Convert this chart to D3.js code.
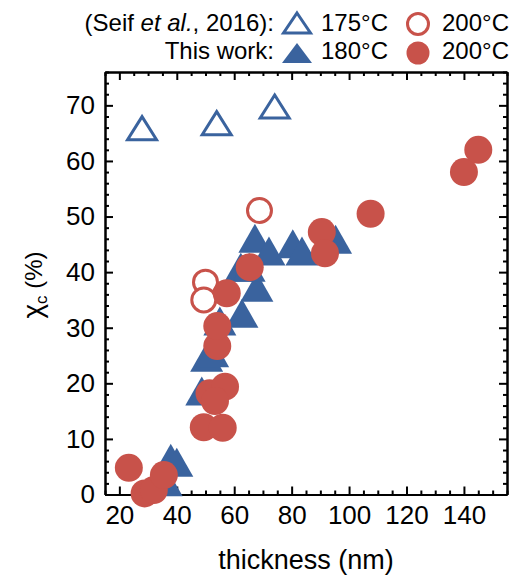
<!DOCTYPE html>
<html><head><meta charset="utf-8">
<script src="https://cdn.jsdelivr.net/npm/d3@7"></script>
<style>body{margin:0;background:#fff} text{font-family:"Liberation Sans", Arial, sans-serif;fill:#000}</style>
</head><body><svg id="c" width="513" height="579"></svg>
<script>
// ---- data ----
const xTicks = [20, 40, 60, 80, 100, 120, 140];
const yTicks = [0, 10, 20, 30, 40, 50, 60, 70];
// Seif et al., 2016 — 175°C (open triangles)
const seif175X = [27.9, 53.9, 74.1];
const seif175Y = [65.9, 66.8, 69.8];
// Seif et al., 2016 — 200°C (open circles)
const seif200X = [50.0, 49.4, 68.8];
const seif200Y = [38.2, 35.0, 51.1];
// This work — 180°C (filled triangles)
const work180X = [36.3, 37.9, 40.0, 48.7, 50.4, 52.5, 55.0, 62.7, 67.9, 62.3, 65.2, 67.2, 72.1, 80.4, 83.6, 95.3];
const work180Y = [2.3, 6.5, 5.8, 18.6, 24.7, 25.5, 31.2, 32.6, 37.3, 40.9, 40.9, 46.1, 43.8, 45.1, 43.8, 45.9];
// This work — 200°C (filled circles)
const work200X = [23.3, 28.8, 32.0, 35.5, 49.4, 56.0, 51.4, 56.8, 53.3, 54.1, 54.1, 57.4, 65.4, 90.5, 91.6, 107.5, 140.0, 145.0];
const work200Y = [4.8, 0.2, 0.8, 3.5, 12.1, 12.0, 18.2, 19.4, 16.8, 26.7, 30.3, 36.2, 40.9, 47.2, 43.4, 50.5, 58.0, 62.0];

const BLUE = "#3a639e", RED = "#c8524a";

// ---- layout ----
const L = 105, R = 507, T = 72, B = 494.5;
const svg = d3.select("#c");
const x = d3.scaleLinear().domain([15, 155]).range([L, R]);
const y = d3.scaleLinear().domain([0, 76]).range([B, T]);

const xMinor = d3.range(15, 156, 5).filter(v => v % 20 !== 0);
const yMinor = d3.range(0, 77, 2).filter(v => v % 10 !== 0);

function styleAxis(g){ g.selectAll("path,line").attr("stroke","#000").attr("stroke-width",2); }

// bottom
svg.append("g").attr("transform",`translate(0,${B})`)
  .call(d3.axisBottom(x).tickValues(xMinor).tickSize(-4).tickFormat("").tickSizeOuter(0)).call(styleAxis);
svg.append("g").attr("transform",`translate(0,${B})`)
  .call(d3.axisBottom(x).tickValues(xTicks).tickSize(-8).tickSizeOuter(0).tickPadding(11).tickFormat(d3.format("d")))
  .call(styleAxis).call(g=>g.selectAll("text").attr("font-size",26).attr("font-family","Liberation Sans, Arial, sans-serif"));
// top
svg.append("g").attr("transform",`translate(0,${T})`)
  .call(d3.axisTop(x).tickValues(xMinor).tickSize(-4).tickFormat("").tickSizeOuter(0)).call(styleAxis);
svg.append("g").attr("transform",`translate(0,${T})`)
  .call(d3.axisTop(x).tickValues(xTicks).tickSize(-8).tickFormat("").tickSizeOuter(0)).call(styleAxis);
// left
svg.append("g").attr("transform",`translate(${L},0)`)
  .call(d3.axisLeft(y).tickValues(yMinor).tickSize(-4).tickFormat("").tickSizeOuter(0)).call(styleAxis);
svg.append("g").attr("transform",`translate(${L},0)`)
  .call(d3.axisLeft(y).tickValues(yTicks).tickSize(-8).tickSizeOuter(0).tickPadding(10).tickFormat(d3.format("d")))
  .call(styleAxis).call(g=>g.selectAll("text").attr("font-size",26).attr("font-family","Liberation Sans, Arial, sans-serif"));
// right
svg.append("g").attr("transform",`translate(${R},0)`)
  .call(d3.axisRight(y).tickValues(yMinor).tickSize(-4).tickFormat("").tickSizeOuter(0)).call(styleAxis);
svg.append("g").attr("transform",`translate(${R},0)`)
  .call(d3.axisRight(y).tickValues(yTicks).tickSize(-8).tickFormat("").tickSizeOuter(0)).call(styleAxis);

// ---- markers ----
function triPath(cx, cy, w, h){
  return `M${cx},${cy-h/2}L${cx+w/2},${cy+h/2}L${cx-w/2},${cy+h/2}Z`;
}
const plot = svg.append("g");
plot.selectAll(".ot").data(d3.zip(seif175X, seif175Y)).join("path")
  .attr("d", d => triPath(x(d[0]), y(d[1]), 29, 23))
  .attr("fill","#fff").attr("stroke",BLUE).attr("stroke-width",3).attr("stroke-linejoin","miter");
plot.selectAll(".oc").data(d3.zip(seif200X, seif200Y)).join("circle")
  .attr("cx", d => x(d[0])).attr("cy", d => y(d[1])).attr("r", 12)
  .attr("fill","#fff").attr("stroke",RED).attr("stroke-width",3);
plot.selectAll(".ft").data(d3.zip(work180X, work180Y)).join("path")
  .attr("d", d => triPath(x(d[0]), y(d[1]), 33, 29)).attr("fill",BLUE);
plot.selectAll(".fc").data(d3.zip(work200X, work200Y)).join("circle")
  .attr("cx", d => x(d[0])).attr("cy", d => y(d[1])).attr("r", 14).attr("fill",RED);

// ---- axis titles ----
svg.append("text").attr("x", (L+R)/2).attr("y", 569).attr("text-anchor","middle")
  .attr("font-size",27).text("thickness (nm)");
const yt = svg.append("text").attr("transform","translate(42,285) rotate(-90)").attr("text-anchor","middle").attr("font-size",24);
yt.append("tspan").attr("font-size",28).text("χ");
yt.append("tspan").attr("font-size",17).attr("dy",5).text("c");
yt.append("tspan").attr("dy",-5).text(" (%)");

// ---- legend ----
const lg = svg.append("g").attr("font-size",24);
const t1 = lg.append("text").attr("x",274).attr("y",31).attr("text-anchor","end");
t1.append("tspan").text("(Seif ");
t1.append("tspan").attr("font-style","italic").text("et al.");
t1.append("tspan").text(", 2016):");
lg.append("text").attr("x",274).attr("y",59).attr("text-anchor","end").text("This work:");
lg.append("path").attr("d", triPath(297, 23, 27, 20)).attr("fill","#fff").attr("stroke",BLUE).attr("stroke-width",3);
lg.append("path").attr("d", triPath(297, 53, 30, 20)).attr("fill",BLUE);
lg.append("text").attr("x",321).attr("y",31).text("175°C");
lg.append("text").attr("x",321).attr("y",59).text("180°C");
lg.append("circle").attr("cx",418).attr("cy",24).attr("r",10.5).attr("fill","#fff").attr("stroke",RED).attr("stroke-width",3);
lg.append("circle").attr("cx",418).attr("cy",53).attr("r",11.5).attr("fill",RED);
lg.append("text").attr("x",442).attr("y",31).text("200°C");
lg.append("text").attr("x",442).attr("y",59).text("200°C");
</script></body></html>
